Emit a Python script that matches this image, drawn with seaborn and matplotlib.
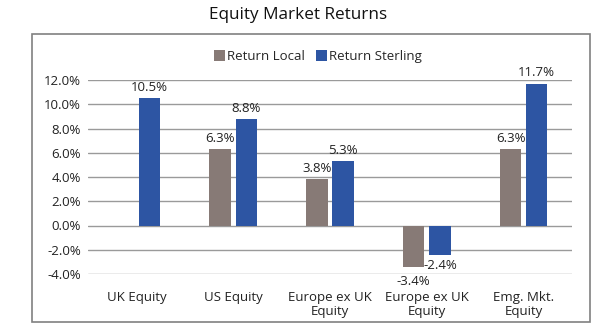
import matplotlib
matplotlib.use("Agg")
import matplotlib.pyplot as plt
from matplotlib.patches import Rectangle
import numpy as np
import pandas as pd
import seaborn as sns

# Market categories and returns (%)
categories = ["UK Equity", "US Equity", "Europe ex UK\nEquity",
              "Europe ex UK\nEquity", "Emg. Mkt.\nEquity"]
return_local = [np.nan, 6.3, 3.8, -3.4, 6.3]
return_sterling = [10.5, 8.8, 5.3, -2.4, 11.7]
series_names = ["Return Local", "Return Sterling"]
y_ticks = [-4, -2, 0, 2, 4, 6, 8, 10, 12]

colors = ["#877a76", "#2d55a3"]

sns.set_theme(style="white")
plt.rcParams["font.family"] = ["Open Sans", "DejaVu Sans"]

# Use unique keys so the two identical category names stay separate
keys = [f"c{i}" for i in range(len(categories))]
df = pd.DataFrame({
    "key": keys * 2,
    "series": [series_names[0]] * len(keys) + [series_names[1]] * len(keys),
    "value": return_local + return_sterling,
})

fig = plt.figure(figsize=(6, 3.3), dpi=100)
ax = fig.add_axes([88 / 600, 1 - 274 / 330, (572 - 88) / 600, (274 - 80) / 330])

sns.barplot(data=df, x="key", y="value", hue="series", order=keys,
            hue_order=series_names, palette=colors, width=0.54, gap=0.18,
            ax=ax, legend=True, saturation=1, linewidth=0, edgecolor="none")

ax.set_ylim(-4, 12)
ax.set_yticks(y_ticks)
ax.set_yticklabels([f"{v:.1f}%" for v in y_ticks], fontsize=9.5, color="#222222")
ax.set_xticks(range(len(categories)))
ax.set_xticklabels(categories, fontsize=9.5, color="#222222", linespacing=1.1,
                   va="top")
ax.tick_params(axis="x", length=0, pad=12)
ax.tick_params(axis="y", length=0, pad=5)
ax.set_xlabel("")
ax.set_ylabel("")
ax.set_xlim(-0.5, len(categories) - 0.5)
for s in ax.spines.values():
    s.set_visible(False)
ax.yaxis.grid(True, color="#9a9a9a", linewidth=1.0)
ax.set_axisbelow(True)


def fmt(h, keep):
    return f"{h:.1f}%" if keep(h) else ""


# Value labels on every bar; negative local labels sit a little lower
local_bars, sterling_bars = ax.containers[0], ax.containers[1]
ax.bar_label(sterling_bars,
             labels=[fmt(b.get_height(), lambda h: not np.isnan(h))
                     for b in sterling_bars],
             padding=3, fontsize=9.5, color="#222222")
ax.bar_label(local_bars,
             labels=[fmt(b.get_height(), lambda h: h >= 0)
                     for b in local_bars],
             padding=3, fontsize=9.5, color="#222222")
ax.bar_label(local_bars,
             labels=[fmt(b.get_height(), lambda h: h < 0)
                     for b in local_bars],
             padding=6, fontsize=9.5, color="#222222")

ax.legend(loc="lower center", bbox_to_anchor=((318 - 88) / 484, 1.06),
          ncol=2, frameon=False, fontsize=9.5, handlelength=0.8,
          handleheight=0.8, handletextpad=0.15, columnspacing=0.9,
          borderaxespad=0)

fig.text(298 / 600, 1 - 15 / 330, "Equity Market Returns", ha="center",
         va="center", fontsize=12.3, color="#111111")

# Outer frame around the chart
fig.patches.append(Rectangle((32 / 600, 1 - 322 / 330), (590 - 32) / 600,
                             (322 - 34) / 330, transform=fig.transFigure,
                             fill=False, edgecolor="#808080", linewidth=1.2))

fig.savefig("out.png", dpi=100)
